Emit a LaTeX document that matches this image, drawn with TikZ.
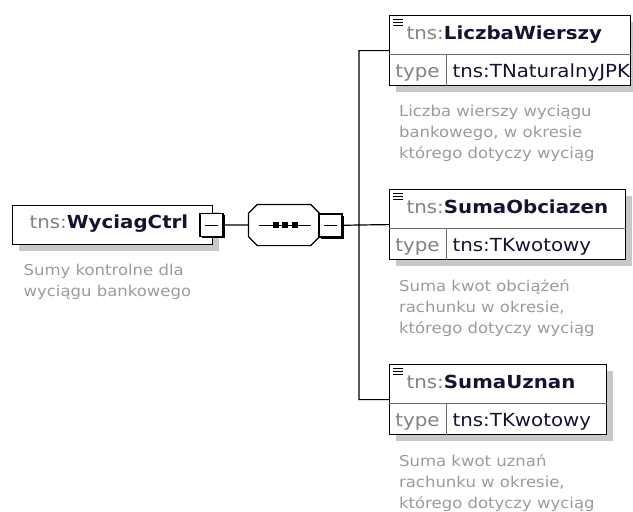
\documentclass[tikz,border=0pt]{standalone}
\usepackage{fontspec}
\setmainfont[FakeStretch=1.1]{DejaVu Sans}
\usetikzlibrary{positioning,shadows}

\definecolor{prefixgray}{RGB}{130,130,130}
\definecolor{namenavy}{RGB}{20,20,50}
\definecolor{notegray}{RGB}{155,155,155}
\definecolor{shadowgray}{RGB}{200,200,200}
\definecolor{rulegray}{RGB}{110,110,110}

\newcommand{\tnsname}[1]{{\color{prefixgray}tns:}{\bfseries\color{namenavy}#1}}
% outline of the sequence compositor, cut corners
\newcommand{\seqoutline}{([xshift=9pt]seq.north west) -- ([xshift=-9pt]seq.north east)
    -- ([yshift=-9pt]seq.north east) -- ([yshift=9pt]seq.south east)
    -- ([xshift=-9pt]seq.south east) -- ([xshift=9pt]seq.south west)
    -- ([yshift=9pt]seq.south west) -- ([yshift=-9pt]seq.north west) -- cycle}

\begin{document}
\begin{tikzpicture}[
                    x=1pt, y=-1pt,
                    line width=1.2pt,
                    elem/.style={draw, fill=white, rectangle, inner sep=0pt, anchor=north west,
                        drop shadow={shadow xshift=6pt, shadow yshift=-6pt, fill=shadowgray, opacity=1}},
                    minus/.style={draw, fill=white, rectangle, inner sep=0pt,
                        minimum width=23pt, minimum height=23pt,
                        drop shadow={shadow xshift=1.6pt, shadow yshift=-1.6pt, fill=black, opacity=1}},
                    minusdash/.style={line width=1pt, shorten >=6pt, shorten <=6pt},
                    seq/.style={rectangle, inner sep=0pt, minimum width=70pt, minimum height=40pt},
                    seqdot/.style={fill, rectangle, inner sep=0pt, minimum size=6pt},
                    namelabel/.style={font=\fontsize{18}{22}\selectfont, inner sep=0pt, anchor=base west},
                    typekey/.style={font=\fontsize{18}{22}\selectfont, text=prefixgray, inner sep=0pt, anchor=base},
                    typeval/.style={font=\fontsize{18}{22}\selectfont, text=namenavy, inner sep=0pt, anchor=base west},
                    note/.style={font=\fontsize{15}{21}\selectfont, text=notegray, align=left,
                        inner sep=0pt, anchor=north west},
                    rule/.style={draw=rulegray, line width=0.8pt},
                    icon/.style={line width=1.5pt}
                ]
                \useasboundingbox (0,0) rectangle (633,512);

                % root element
                \node[elem, minimum width=200pt, minimum height=39pt] (ctrl) at (12,205) {};
                \node[namelabel] (ctrl-name) at ([xshift=17pt, yshift=-23pt]ctrl.north west) {\tnsname{WyciagCtrl}};
                \node[note] (ctrl-note) at ([xshift=11pt, yshift=-18.5pt]ctrl.south west) {Sumy kontrolne dla\\wyciągu bankowego};
                \node[minus] (ctrl-minus) at (211.5,225) {};
                \draw[minusdash] (ctrl-minus.west) -- (ctrl-minus.east);

                % sequence
                \node[seq] (seq) at (284,225) {};
                \fill[shadowgray, xshift=6pt, yshift=-6pt] \seqoutline;
                \draw[fill=white] \seqoutline;
                \draw[line width=1pt] ([xshift=11pt]seq.west) -- ([xshift=-9pt]seq.east);
                \node[seqdot] (seq-dot1) at ([xshift=-8.5pt]seq.center) {};
                \node[seqdot] (seq-dot2) at ([xshift=1pt]seq.center) {};
                \node[seqdot] (seq-dot3) at ([xshift=10.5pt]seq.center) {};
                \node[minus] (seq-minus) at (330.5,225.5) {};
                \draw[minusdash] (seq-minus.west) -- (seq-minus.east);

                % child elements
                \node[elem, minimum width=241pt, minimum height=70pt] (liczba) at (389,15) {};
                \node[elem, minimum width=236pt, minimum height=70pt] (obciazen) at (389,189) {};
                \node[elem, minimum width=217pt, minimum height=70pt] (uznan) at (389,364) {};

                \draw[rule] ([yshift=-39pt]liczba.north west) -- ([yshift=-39pt]liczba.north east);
                \draw[rule] ([xshift=57pt, yshift=-39pt]liczba.north west) -- ([xshift=57pt]liczba.south west);
                \draw[icon] ([xshift=4pt, yshift=-4.5pt]liczba.north west) -- ++(10,0)
                    ([xshift=4pt, yshift=-7.5pt]liczba.north west) -- ++(10,0)
                    ([xshift=4pt, yshift=-10.5pt]liczba.north west) -- ++(10,0);
                \node[namelabel] (liczba-name) at ([xshift=17pt, yshift=-24.5pt]liczba.north west) {\tnsname{LiczbaWierszy}};
                \node[typekey] (liczba-key) at ([xshift=28.5pt, yshift=8.5pt]liczba.south west) {type};
                \node[typeval] (liczba-type) at ([xshift=63pt, yshift=8.5pt]liczba.south west) {tns:TNaturalnyJPK};
                \node[note] (liczba-note) at ([xshift=9.5pt, yshift=-18.5pt]liczba.south west) {Liczba wierszy wyciągu\\bankowego, w okresie\\którego dotyczy wyciąg};

                \draw[rule] ([yshift=-39pt]obciazen.north west) -- ([yshift=-39pt]obciazen.north east);
                \draw[rule] ([xshift=57pt, yshift=-39pt]obciazen.north west) -- ([xshift=57pt]obciazen.south west);
                \draw[icon] ([xshift=4pt, yshift=-4.5pt]obciazen.north west) -- ++(10,0)
                    ([xshift=4pt, yshift=-7.5pt]obciazen.north west) -- ++(10,0)
                    ([xshift=4pt, yshift=-10.5pt]obciazen.north west) -- ++(10,0);
                \node[namelabel] (obciazen-name) at ([xshift=17pt, yshift=-24.5pt]obciazen.north west) {\tnsname{SumaObciazen}};
                \node[typekey] (obciazen-key) at ([xshift=28.5pt, yshift=8.5pt]obciazen.south west) {type};
                \node[typeval] (obciazen-type) at ([xshift=63pt, yshift=8.5pt]obciazen.south west) {tns:TKwotowy};
                \node[note] (obciazen-note) at ([xshift=9.5pt, yshift=-18.5pt]obciazen.south west) {Suma kwot obciążeń\\rachunku w okresie,\\którego dotyczy wyciąg};

                \draw[rule] ([yshift=-39pt]uznan.north west) -- ([yshift=-39pt]uznan.north east);
                \draw[rule] ([xshift=57pt, yshift=-39pt]uznan.north west) -- ([xshift=57pt]uznan.south west);
                \draw[icon] ([xshift=4pt, yshift=-4.5pt]uznan.north west) -- ++(10,0)
                    ([xshift=4pt, yshift=-7.5pt]uznan.north west) -- ++(10,0)
                    ([xshift=4pt, yshift=-10.5pt]uznan.north west) -- ++(10,0);
                \node[namelabel] (uznan-name) at ([xshift=17pt, yshift=-24.5pt]uznan.north west) {\tnsname{SumaUznan}};
                \node[typekey] (uznan-key) at ([xshift=28.5pt, yshift=8.5pt]uznan.south west) {type};
                \node[typeval] (uznan-type) at ([xshift=63pt, yshift=8.5pt]uznan.south west) {tns:TKwotowy};
                \node[note] (uznan-note) at ([xshift=9.5pt, yshift=-18.5pt]uznan.south west) {Suma kwot uznań\\rachunku w okresie,\\którego dotyczy wyciąg};

                % connectors
                \coordinate (fork) at (359,225);
                \path[draw]
                (ctrl-minus) -- (seq)
                (seq-minus) -- (fork)
                (liczba.west) -- (liczba.west -| fork) -- (uznan.west -| fork) -- (uznan.west)
                (fork) -- (obciazen.west)
                ;
            \end{tikzpicture}
\end{document}
